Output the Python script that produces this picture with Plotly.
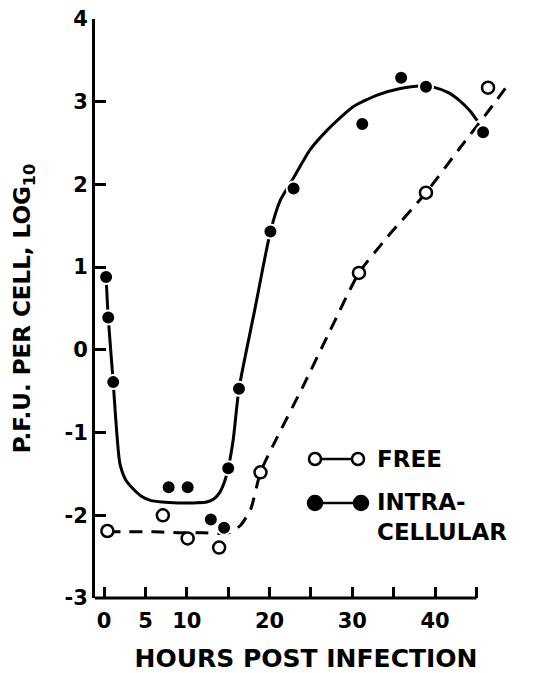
import plotly.graph_objects as go

# ---- data ----
intra_x = [0.24, 0.5, 1.1, 7.8, 10.1, 12.9, 14.5, 15.0, 16.3, 20.1, 22.9, 31.2, 35.9, 38.9, 45.8]
intra_y = [0.88, 0.39, -0.39, -1.66, -1.66, -2.05, -2.15, -1.43, -0.47, 1.43, 1.95, 2.73, 3.29, 3.18, 2.63]

free_x = [0.4, 7.1, 10.1, 13.9, 18.9, 30.8, 38.9, 46.4]
free_y = [-2.19, -2.0, -2.28, -2.39, -1.48, 0.93, 1.90, 3.17]

# hand-drawn fitted curves
intra_curve_x = [0.24, 0.5, 1.1, 1.35, 1.9, 2.6, 3.5, 4.5, 5.6, 7.0, 9.0, 11.0, 12.4, 13.3, 14.0,
                 14.6, 15.0, 15.6, 16.3, 18.2, 20.1, 21.3, 22.9, 24.9, 27.0, 30.1, 33.0,
                 35.8, 38.2, 40.0, 41.6, 43.0, 44.2, 45.1]
intra_curve_y = [0.88, 0.39, -0.39, -0.76, -1.37, -1.57, -1.68, -1.77, -1.82, -1.84, -1.85, -1.85,
                 -1.84, -1.80, -1.72, -1.58, -1.43, -1.09, -0.47, 0.48, 1.43, 1.81, 2.08,
                 2.42, 2.66, 2.94, 3.08, 3.16, 3.19, 3.17, 3.11, 3.01, 2.89, 2.77]

free_curve_x = [0.4, 3, 6, 9, 12, 14, 15.2, 16.5, 17.7, 18.9, 20.5, 24.0, 27.3, 30.8,
                34.2, 38.9, 43.0, 47.0, 48.7]
free_curve_y = [-2.2, -2.2, -2.2, -2.21, -2.21, -2.22, -2.21, -2.12, -1.93, -1.48, -1.14, -0.45,
                0.23, 0.93, 1.36, 1.90, 2.44, 2.96, 3.19]

x_major_ticks = [0, 5, 10, 20, 30, 40]
x_tick_labels = ["0", "5", "10", "20", "30", "40"]
y_ticks = [-3, -2, -1, 0, 1, 2, 3, 4]
y_tick_labels = ["-3", "-2", "-1", "0", "1", "2", "3", "4"]

FONT = "DejaVu Sans"

fig = go.Figure()

fig.add_trace(go.Scatter(x=intra_curve_x, y=intra_curve_y, mode="lines",
                         line=dict(color="black", width=3, shape="spline", smoothing=0.6),
                         showlegend=False, hoverinfo="skip"))
fig.add_trace(go.Scatter(x=free_curve_x, y=free_curve_y, mode="lines",
                         line=dict(color="black", width=3, shape="spline", smoothing=0.6,
                                   dash="13px,9px"),
                         showlegend=False, hoverinfo="skip"))
fig.add_trace(go.Scatter(x=intra_x, y=intra_y, mode="markers", name="INTRA-CELLULAR",
                         marker=dict(symbol="circle", size=14, color="black",
                                     line=dict(color="white", width=2)),
                         showlegend=False))
fig.add_trace(go.Scatter(x=free_x, y=free_y, mode="markers", name="FREE",
                         marker=dict(symbol="circle", size=12, color="white",
                                     line=dict(color="black", width=2.5)),
                         showlegend=False))

# x axis line that stops at 45 h
fig.add_shape(type="line", xref="x", yref="paper", x0=-1.1, x1=45, y0=0, y1=0,
              line=dict(color="black", width=3))

# legend (drawn with shapes + annotations)
W, H, L, B = 422.0, 579.0, 95.0, 598.0
def px(xp): return (xp - L) / W
def py(yp): return (B - yp) / H
r = 6
for cx, cy, filled in [(315, 459, False), (358, 459, False), (315, 503, True), (361, 503, True)]:
    rr = r + 1 if filled else r
    fig.add_shape(type="circle", xref="paper", yref="paper",
                  x0=px(cx - rr), x1=px(cx + rr), y0=py(cy + rr), y1=py(cy - rr),
                  fillcolor="black" if filled else "white",
                  line=dict(color="black", width=2.5))
fig.add_shape(type="line", xref="paper", yref="paper", x0=px(322), x1=px(351), y0=py(459), y1=py(459),
              line=dict(color="black", width=2.5))
fig.add_shape(type="line", xref="paper", yref="paper", x0=px(323), x1=px(354), y0=py(503), y1=py(503),
              line=dict(color="black", width=2.5))
fig.add_annotation(xref="paper", yref="paper", x=px(375), y=py(459), text="FREE",
                   showarrow=False, xanchor="left", yanchor="middle",
                   font=dict(family=FONT, size=23, color="black", weight="bold"))
fig.add_annotation(xref="paper", yref="paper", x=px(375), y=py(517), text="INTRA-<br>CELLULAR",
                   showarrow=False, xanchor="left", yanchor="middle", align="left",
                   font=dict(family=FONT, size=23, color="black", weight="bold"))

fig.update_layout(
    width=534, height=673,
    margin=dict(l=95, r=17, t=19, b=75, autoexpand=False),
    paper_bgcolor="white", plot_bgcolor="white",
    font=dict(family=FONT, size=21, color="black", weight="bold"),
    xaxis=dict(range=[-1.1, 49.9], showline=False, showgrid=False, zeroline=False,
               automargin=False,
               tickmode="array", tickvals=x_major_ticks, ticktext=x_tick_labels,
               ticks="inside", ticklen=11, tickwidth=2.5, tickcolor="black",
               ticklabelstandoff=8,
               minor=dict(tick0=0, dtick=5, ticks="inside", ticklen=11, tickwidth=2.5,
                          tickcolor="black", showgrid=False),
               tickfont=dict(family=FONT, size=21, weight="bold"),
               title=dict(text="HOURS POST INFECTION", standoff=17,
                          font=dict(family=FONT, size=25, weight="bold"))),
    yaxis=dict(range=[-3, 4], showline=True, linewidth=3, linecolor="black",
               showgrid=False, zeroline=False, automargin=False,
               tickmode="array", tickvals=y_ticks, ticktext=y_tick_labels,
               ticks="inside", ticklen=11, tickwidth=2.5, tickcolor="black",
               tickfont=dict(family=FONT, size=21, weight="bold"),
               title=dict(text="P.F.U. PER CELL, LOG<sub>10</sub>", standoff=28,
                          font=dict(family=FONT, size=23, weight="bold"))),
)

fig.write_html("out.html")
